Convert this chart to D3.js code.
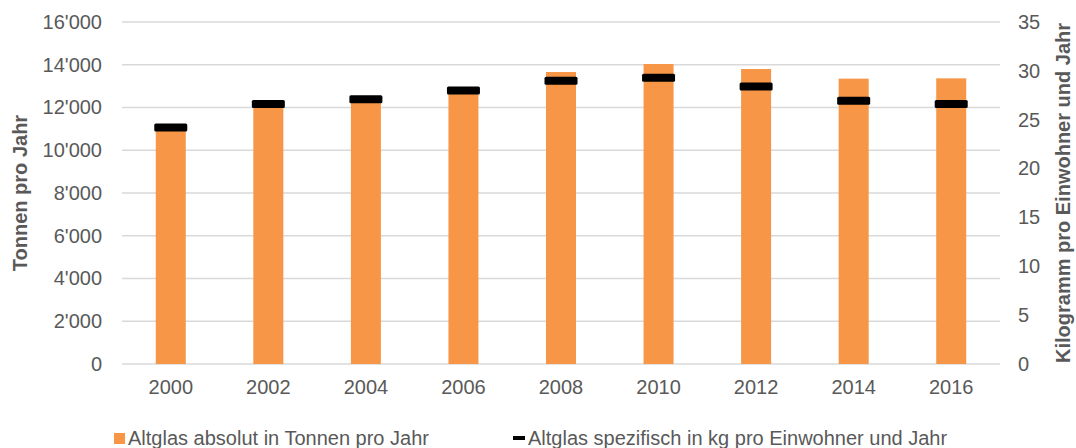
<!DOCTYPE html>
<html>
<head>
    <title>Altglas</title>
    <script src="https://d3js.org/d3.v7.min.js"></script>
    <style>
        body { margin: 0; background: #fff; }
        text { font-family: "Liberation Sans", Arial, sans-serif; fill: #595959; }
    </style>
</head>
<body>
<svg width="1076" height="448"></svg>

<script>
// data
const years = ["2000", "2002", "2004", "2006", "2008", "2010", "2012", "2014", "2016"];
const tonnen = [11050, 12150, 12380, 12820, 13660, 14035, 13800, 13350, 13365];
const kgProEinwohner = [24.2, 26.6, 27.1, 28.0, 29.0, 29.3, 28.4, 26.95, 26.6];
const leftTicks = [0, 2000, 4000, 6000, 8000, 10000, 12000, 14000, 16000];
const rightTicks = [0, 5, 10, 15, 20, 25, 30, 35];
const legendLabels = ["Altglas absolut in Tonnen pro Jahr", "Altglas spezifisch in kg pro Einwohner und Jahr"];

const svg = d3.select("svg"),
      margin = {top: 22, right: 76, bottom: 84, left: 122},
      width = +svg.attr("width") - margin.left - margin.right,
      height = +svg.attr("height") - margin.top - margin.bottom,
      g = svg.append("g").attr("transform", "translate(" + margin.left + "," + margin.top + ")");

const fmt = d3.formatLocale({decimal: ".", thousands: "'", grouping: [3], currency: ["", ""]}).format(",");

const x = d3.scaleBand().domain(years).range([0, width]),
      y = d3.scaleLinear().domain([0, 16000]).range([height, 0]),
      yR = d3.scaleLinear().domain([0, 35]).range([height, 0]);

// gridlines
g.selectAll(".grid")
    .data(leftTicks)
    .enter().append("line")
    .attr("x1", 0)
    .attr("x2", width)
    .attr("y1", d => y(d))
    .attr("y2", d => y(d))
    .attr("stroke", "#d9d9d9")
    .attr("stroke-width", 1.3);

// left axis
const yAxis = g.append("g")
    .call(d3.axisLeft(y).tickValues(leftTicks).tickFormat(fmt).tickSize(0).tickPadding(20));
yAxis.select(".domain").remove();
yAxis.selectAll("text").style("font-size", "20px").attr("fill", "#595959");

// right axis
const yAxisR = g.append("g")
    .attr("transform", "translate(" + width + ",0)")
    .call(d3.axisRight(yR).tickValues(rightTicks).tickSize(0).tickPadding(18));
yAxisR.select(".domain").remove();
yAxisR.selectAll("text").style("font-size", "20px").attr("fill", "#595959");

// x axis
const xAxis = g.append("g")
    .attr("transform", "translate(0," + height + ")")
    .call(d3.axisBottom(x).tickSize(0).tickPadding(16));
xAxis.select(".domain").remove();
xAxis.selectAll("text").style("font-size", "20px").attr("fill", "#595959");

// bars
const barW = 30;
g.selectAll(".bar")
    .data(years)
    .enter().append("rect")
    .attr("class", "bar")
    .attr("x", (d, i) => x(d) + x.bandwidth() / 2 - barW / 2)
    .attr("y", (d, i) => y(tonnen[i]))
    .attr("width", barW)
    .attr("height", (d, i) => height - y(tonnen[i]))
    .attr("fill", "#f79646");

// marker dashes
const mW = 33, mH = 8;
g.selectAll(".marker")
    .data(years)
    .enter().append("rect")
    .attr("class", "marker")
    .attr("x", (d, i) => x(d) + x.bandwidth() / 2 - mW / 2)
    .attr("y", (d, i) => yR(kgProEinwohner[i]) - mH / 2)
    .attr("width", mW)
    .attr("height", mH)
    .attr("rx", 1.5)
    .attr("fill", "#000");

// axis titles
svg.append("text")
    .attr("transform", "translate(27," + (margin.top + height / 2) + ") rotate(-90)")
    .attr("text-anchor", "middle")
    .style("font-size", "20px")
    .style("font-weight", "bold")
    .text("Tonnen pro Jahr");

svg.append("text")
    .attr("transform", "translate(1070," + (margin.top + height / 2) + ") rotate(-90)")
    .attr("text-anchor", "middle")
    .style("font-size", "20px")
    .style("font-weight", "bold")
    .text("Kilogramm pro Einwohner und Jahr");

// legend
const legend = svg.append("g");
legend.append("rect")
    .attr("x", 114).attr("y", 433)
    .attr("width", 11).attr("height", 11)
    .attr("fill", "#f79646");
legend.append("text")
    .attr("x", 128).attr("y", 438)
    .attr("dy", ".35em")
    .style("font-size", "20px")
    .text(legendLabels[0]);

legend.append("rect")
    .attr("x", 513).attr("y", 436)
    .attr("width", 12).attr("height", 4)
    .attr("fill", "#000");
legend.append("text")
    .attr("x", 528).attr("y", 438)
    .attr("dy", ".35em")
    .style("font-size", "20px")
    .text(legendLabels[1]);
</script>
</body>
</html>
